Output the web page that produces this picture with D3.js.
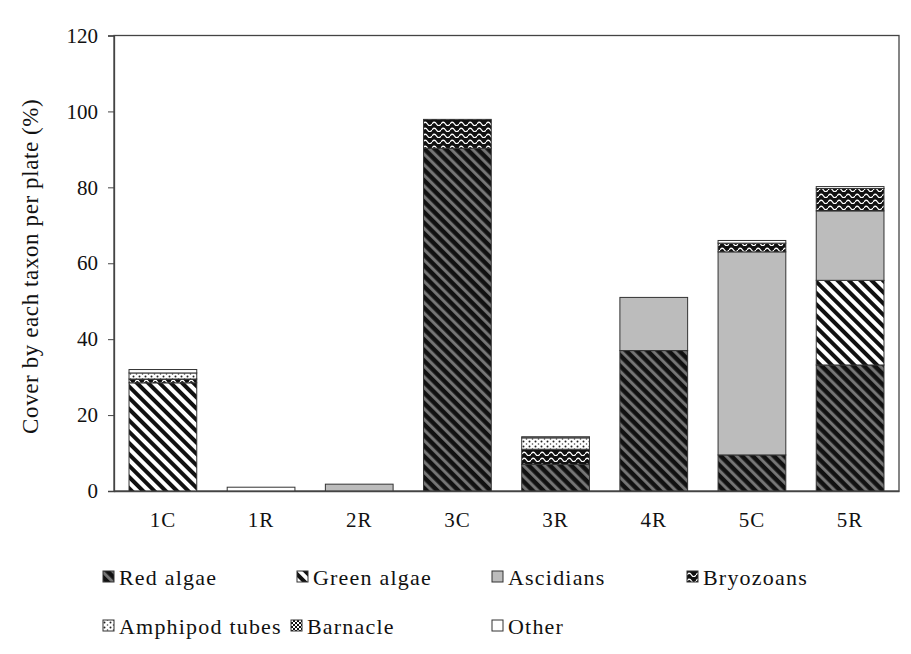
<!DOCTYPE html>
<html>
<head>
<meta charset="utf-8">
<script src="https://cdn.jsdelivr.net/npm/d3@7"></script>
<style>
  body { margin: 0; background: #fff; }
  text { font-family: "Liberation Serif", "Times New Roman", serif; fill: #111; }
</style>
</head>
<body>
<div class="chart"></div>
<script>
var plates = ['1C', '1R', '2R', '3C', '3R', '4R', '5C', '5R']
var taxa = ['Red algae', 'Green algae', 'Ascidians', 'Bryozoans', 'Amphipod tubes', 'Barnacle', 'Other']

// cover (%) per plate, one array per taxon
var redAlgae      = [0,    0, 0, 90.3, 7,   37, 9.5,  33.2]
var greenAlgae    = [28.5, 0, 0, 0,    0,   0,  0,    22.3]
var ascidians     = [0,    0, 1.8, 0,  0,   14, 53.5, 18.3]
var bryozoans     = [1,    0, 0, 7.6,  4,   0,  2.3,  5.9]
var amphipodTubes = [1.6,  0, 0, 0,    3,   0,  0,    0]
var barnacle      = [0,    0, 0, 0,    0,   0,  0,    0]
var other         = [0.9,  1, 0, 0,    0.3, 0,  0.7,  0.5]
var yTicks = [0, 20, 40, 60, 80, 100, 120]

var seriesValues = [redAlgae, greenAlgae, ascidians, bryozoans, amphipodTubes, barnacle, other]
var table = plates.map(function (p, i) {
  var row = { plate: p }
  taxa.forEach(function (t, j) { row[t] = seriesValues[j][i] })
  return row
})

var W = 911, H = 654
var mLeft = 114, mRight = 899, mTop = 35.5, mBottom = 491

var svg = d3.select('.chart')
  .append('svg')
    .attr('width', W)
    .attr('height', H)

var defs = svg.append('defs')

// red algae: black with grey diagonal stripes
var p = defs.append('pattern').attr('id', 'p0').attr('patternUnits', 'userSpaceOnUse')
  .attr('width', 7.5).attr('height', 7.5).attr('patternTransform', 'rotate(-45)')
p.append('rect').attr('width', 7.5).attr('height', 7.5).attr('fill', '#111')
p.append('rect').attr('x', 2).attr('width', 3).attr('height', 7.5).attr('fill', '#777')

// green algae: white with black diagonal stripes
p = defs.append('pattern').attr('id', 'p1').attr('patternUnits', 'userSpaceOnUse')
  .attr('width', 8).attr('height', 8).attr('patternTransform', 'rotate(-45)')
p.append('rect').attr('width', 8).attr('height', 8).attr('fill', '#fff')
p.append('rect').attr('width', 4).attr('height', 8).attr('fill', '#111')

// ascidians: grey
p = defs.append('pattern').attr('id', 'p2').attr('patternUnits', 'userSpaceOnUse')
  .attr('width', 8).attr('height', 8)
p.append('rect').attr('width', 8).attr('height', 8).attr('fill', '#bcbcbc')

// bryozoans: black with white waves
p = defs.append('pattern').attr('id', 'p3').attr('patternUnits', 'userSpaceOnUse')
  .attr('width', 9).attr('height', 6)
p.append('rect').attr('width', 9).attr('height', 6).attr('fill', '#111')
p.append('path').attr('d', 'M0 4 Q2.25 0.5 4.5 4 T9 4').attr('fill', 'none')
  .attr('stroke', '#fff').attr('stroke-width', 1.3)

// amphipod tubes: white with dots
p = defs.append('pattern').attr('id', 'p4').attr('patternUnits', 'userSpaceOnUse')
  .attr('width', 6).attr('height', 5)
p.append('rect').attr('width', 6).attr('height', 5).attr('fill', '#fff')
p.append('circle').attr('cx', 1.5).attr('cy', 1.5).attr('r', 1).attr('fill', '#222')
p.append('circle').attr('cx', 4.5).attr('cy', 4).attr('r', 0.8).attr('fill', '#444')

// barnacle: checker
p = defs.append('pattern').attr('id', 'p5').attr('patternUnits', 'userSpaceOnUse')
  .attr('width', 4).attr('height', 4)
p.append('rect').attr('width', 4).attr('height', 4).attr('fill', '#fff')
p.append('rect').attr('width', 2).attr('height', 2).attr('fill', '#111')
p.append('rect').attr('x', 2).attr('y', 2).attr('width', 2).attr('height', 2).attr('fill', '#111')

// other: white
p = defs.append('pattern').attr('id', 'p6').attr('patternUnits', 'userSpaceOnUse')
  .attr('width', 4).attr('height', 4)
p.append('rect').attr('width', 4).attr('height', 4).attr('fill', '#fff')

var x = d3.scaleBand()
  .domain(plates)
  .range([mLeft, mRight])
  .paddingInner(0.31)
  .paddingOuter(0.153)

var y = d3.scaleLinear()
  .domain([0, 120])
  .range([mBottom, mTop])

var stacked = d3.stack().keys(taxa)(table)

// frame
svg.append('rect')
  .attr('x', mLeft).attr('y', mTop)
  .attr('width', mRight - mLeft).attr('height', mBottom - mTop)
  .attr('fill', 'none').attr('stroke', '#444').attr('stroke-width', 1.3)

svg.append('g')
  .selectAll('g')
  .data(stacked)
  .enter()
    .append('g')
    .attr('fill', (d, i) => `url(#p${i})`)
  .selectAll('rect')
  .data(d => d.filter(s => s[1] - s[0] > 0))
  .enter()
    .append('rect')
    .attr('x', d => x(d.data.plate))
    .attr('y', d => y(d[1]))
    .attr('width', x.bandwidth())
    .attr('height', d => y(d[0]) - y(d[1]))
    .attr('stroke', '#333')
    .attr('stroke-width', 1)

// y axis
var yAxis = svg.append('g')
  .attr('transform', `translate(${mLeft},0)`)
  .call(d3.axisLeft(y).tickValues(yTicks).tickSize(6).tickPadding(10))
yAxis.select('.domain').attr('stroke', '#444').attr('stroke-width', 1.3)
yAxis.selectAll('line').attr('stroke', '#444')
yAxis.selectAll('text').style('font-size', '21px').attr('fill', '#111')
  .style('font-family', '"Liberation Serif", serif')

// x axis
var xAxis = svg.append('g')
  .attr('transform', `translate(0,${mBottom})`)
  .call(d3.axisBottom(x).tickSize(0).tickPadding(21))
xAxis.select('.domain').attr('stroke', '#444').attr('stroke-width', 1.3)
xAxis.selectAll('text').style('font-size', '21px').attr('fill', '#111')
  .style('font-family', '"Liberation Serif", serif')
  .style('letter-spacing', '1px')

svg.append('text')
  .attr('transform', `translate(38,${(mTop + mBottom) / 2 + 3}) rotate(-90)`)
  .attr('text-anchor', 'middle')
  .style('font-size', '23px')
  .style('letter-spacing', '0.6px')
  .text('Cover by each taxon per plate (%)')

// legend
var legendPos = [
  [103, 577], [297, 577], [492, 577], [687, 577],
  [103, 626], [291, 626], [492, 626]
]
var item = svg.append('g')
  .selectAll('g')
  .data(taxa)
  .enter()
    .append('g')
    .attr('transform', (d, i) => `translate(${legendPos[i][0]},${legendPos[i][1]})`)

item.append('rect')
  .attr('x', 0).attr('y', -6)
  .attr('width', 11).attr('height', 11)
  .attr('fill', (d, i) => `url(#p${i})`)
  .attr('stroke', '#333')

item.append('text')
  .attr('x', 16)
  .attr('y', 8)
  .style('font-size', '22px')
  .style('letter-spacing', '1.2px')
  .text(d => d)
</script>
</body>
</html>
